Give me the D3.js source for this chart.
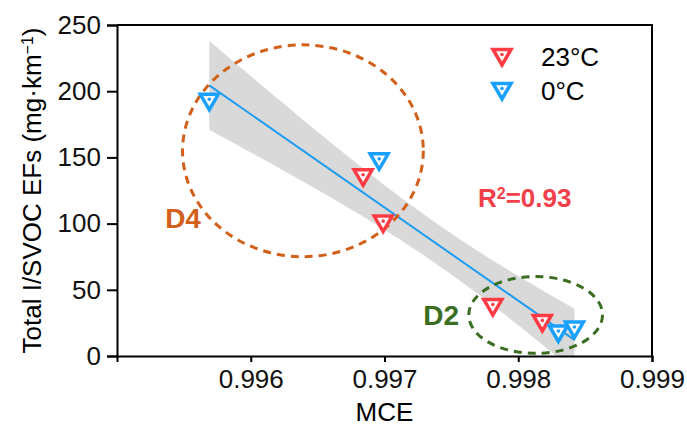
<!DOCTYPE html>
<html>
<head>
<meta charset="utf-8">
<script src="https://cdn.jsdelivr.net/npm/d3@7"></script>
<style>
  html, body { margin: 0; padding: 0; background: #fff; }
  svg text { font-family: "Liberation Sans", Arial, sans-serif; }
</style>
</head>
<body>
<div id="chart"></div>
<script>
// Points
const mce23 = [0.99684, 0.99699, 0.99781, 0.99818];
const ef23 = [135, 100, 37, 25];
const mce0 = [0.99569, 0.99696, 0.99830, 0.99842];
const ef0 = [192, 147, 17, 20];

const xTicks = [0.996, 0.997, 0.998, 0.999];
const yTicks = [0, 50, 100, 150, 200, 250];

// dashed groups (center / radius in data units)
const groups = [
  { name: "D4", cx: 0.99639, cy: 155, rx: 0.0009, ry: 80, color: "#d2601a", lx: 0.99536, ly: 104 },
  { name: "D2", cx: 0.99813, cy: 31, rx: 0.0005, ry: 29, color: "#3b6e22", lx: 0.99729, ly: 31 }
];

const width = 687, height = 432;
const margin = { top: 25, right: 35, bottom: 76, left: 117 };

const x = d3.scaleLinear().domain([0.995, 0.999]).range([margin.left, width - margin.right]);
const y = d3.scaleLinear().domain([0, 250]).range([height - margin.bottom, margin.top]);

const svg = d3.select("#chart").append("svg")
  .attr("width", width).attr("height", height);

svg.append("clipPath").attr("id", "plot")
  .append("rect")
  .attr("x", margin.left).attr("y", margin.top)
  .attr("width", width - margin.left - margin.right)
  .attr("height", height - margin.top - margin.bottom);

// linear fit + 95% confidence band
const pts = mce23.map((m, i) => [m, ef23[i]]).concat(mce0.map((m, i) => [m, ef0[i]]));
const n = pts.length;
const mx = d3.mean(pts, d => d[0]), my = d3.mean(pts, d => d[1]);
const sxx = d3.sum(pts, d => (d[0] - mx) ** 2);
const sxy = d3.sum(pts, d => (d[0] - mx) * (d[1] - my));
const slope = sxy / sxx, icpt = my - slope * mx;
const s = Math.sqrt(d3.sum(pts, d => (d[1] - (icpt + slope * d[0])) ** 2) / (n - 2));
const tval = 2.447;
const [x0, x1] = d3.extent(pts, d => d[0]);
const band = d3.range(0, 51).map(i => {
  const xv = x0 + (x1 - x0) * i / 50;
  const fit = icpt + slope * xv;
  const se = s * Math.sqrt(1 / n + (xv - mx) ** 2 / sxx);
  return { x: xv, lo: fit - tval * se, hi: fit + tval * se, fit: fit };
});

const g = svg.append("g").attr("clip-path", "url(#plot)");
g.append("path")
  .datum(band)
  .attr("fill", "#d9d9d9")
  .attr("d", d3.area().x(d => x(d.x)).y0(d => y(d.lo)).y1(d => y(d.hi)));

g.append("path")
  .datum([band[0], band[band.length - 1]])
  .attr("fill", "none")
  .attr("stroke", "#1e9cf0")
  .attr("stroke-width", 2)
  .attr("d", d3.line().x(d => x(d.x)).y(d => y(d.fit)));

// dashed ellipses
groups.forEach(e => {
  svg.append("ellipse")
    .attr("cx", x(e.cx)).attr("cy", y(e.cy))
    .attr("rx", x(e.cx + e.rx) - x(e.cx))
    .attr("ry", y(0) - y(e.ry))
    .attr("fill", "none")
    .attr("stroke", e.color)
    .attr("stroke-width", 3)
    .attr("stroke-dasharray", "8,6");
  svg.append("text")
    .attr("x", x(e.lx)).attr("y", y(e.ly))
    .attr("dy", "0.36em")
    .attr("fill", e.color)
    .style("font-size", "28px")
    .style("font-weight", "bold")
    .text(e.name);
});

// markers: open down-triangle with a dot
function marker(sel, color) {
  sel.append("path")
    .attr("d", "M-9,-7.5L9,-7.5L0,8Z")
    .attr("fill", "#fff")
    .attr("stroke", color)
    .attr("stroke-width", 3.5);
  sel.append("circle")
    .attr("cx", 0).attr("cy", -2.5).attr("r", 1.8)
    .attr("fill", color);
}

const red = "#ff3c44", blue = "#1aa0ff";

svg.append("g").selectAll("g")
  .data(mce23.map((m, i) => ({ m, v: ef23[i] })))
  .join("g")
  .attr("transform", d => `translate(${x(d.m)},${y(d.v)})`)
  .call(marker, red);

svg.append("g").selectAll("g")
  .data(mce0.map((m, i) => ({ m, v: ef0[i] })))
  .join("g")
  .attr("transform", d => `translate(${x(d.m)},${y(d.v)})`)
  .call(marker, blue);

// axes
const xAxis = svg.append("g")
  .attr("transform", `translate(0,${y(0)})`)
  .call(d3.axisBottom(x).tickValues(d3.range(0.995, 0.99901, 0.0005)).tickSize(4).tickFormat(""));
xAxis.call(d3.axisBottom(x).tickValues(xTicks).tickSize(6).tickPadding(8).tickFormat(d3.format(".3f")));

const yAxis = svg.append("g")
  .attr("transform", `translate(${margin.left},0)`)
  .call(d3.axisLeft(y).tickValues(d3.range(25, 250, 50)).tickSize(5).tickFormat(""));
yAxis.call(d3.axisLeft(y).tickValues(yTicks).tickSize(10).tickPadding(6));

svg.selectAll(".domain").attr("stroke-width", 2);
svg.selectAll(".tick line").attr("stroke-width", 2);
svg.selectAll(".tick text").style("font-size", "26px").attr("fill", "#111");

// frame top/right
svg.append("path")
  .attr("d", `M${x(0.995)},${y(250)}H${x(0.999)}V${y(0)}`)
  .attr("fill", "none").attr("stroke", "#000").attr("stroke-width", 2);

// titles
svg.append("text")
  .attr("x", (x(0.995) + x(0.999)) / 2).attr("y", 421)
  .attr("text-anchor", "middle")
  .style("font-size", "26px")
  .text("MCE");

const yt = svg.append("text")
  .attr("transform", `translate(41,${(y(0) + y(250)) / 2}) rotate(-90)`)
  .attr("text-anchor", "middle")
  .style("font-size", "26px")
  .text("Total I/SVOC EFs (mg\u00b7km");
yt.append("tspan").attr("baseline-shift", "super").style("font-size", "16px").text("\u22121");
yt.append("tspan").text(")");

// R2
const r2 = svg.append("text")
  .attr("x", 478).attr("y", 207)
  .attr("fill", "#f2404a")
  .style("font-size", "26px").style("font-weight", "bold")
  .text("R");
r2.append("tspan").attr("baseline-shift", "super").style("font-size", "16px").text("2");
r2.append("tspan").text("=0.93");

// legend
const legend = [{ label: "23\u00b0C", color: red }, { label: "0\u00b0C", color: blue }];
const lg = svg.append("g").selectAll("g")
  .data(legend).join("g")
  .attr("transform", (d, i) => `translate(502,${57 + i * 34})`);
lg.each(function (d) { marker(d3.select(this), d.color); });
lg.append("text")
  .attr("x", 39).attr("y", 9)
  .style("font-size", "26px")
  .text(d => d.label);
</script>
</body>
</html>
